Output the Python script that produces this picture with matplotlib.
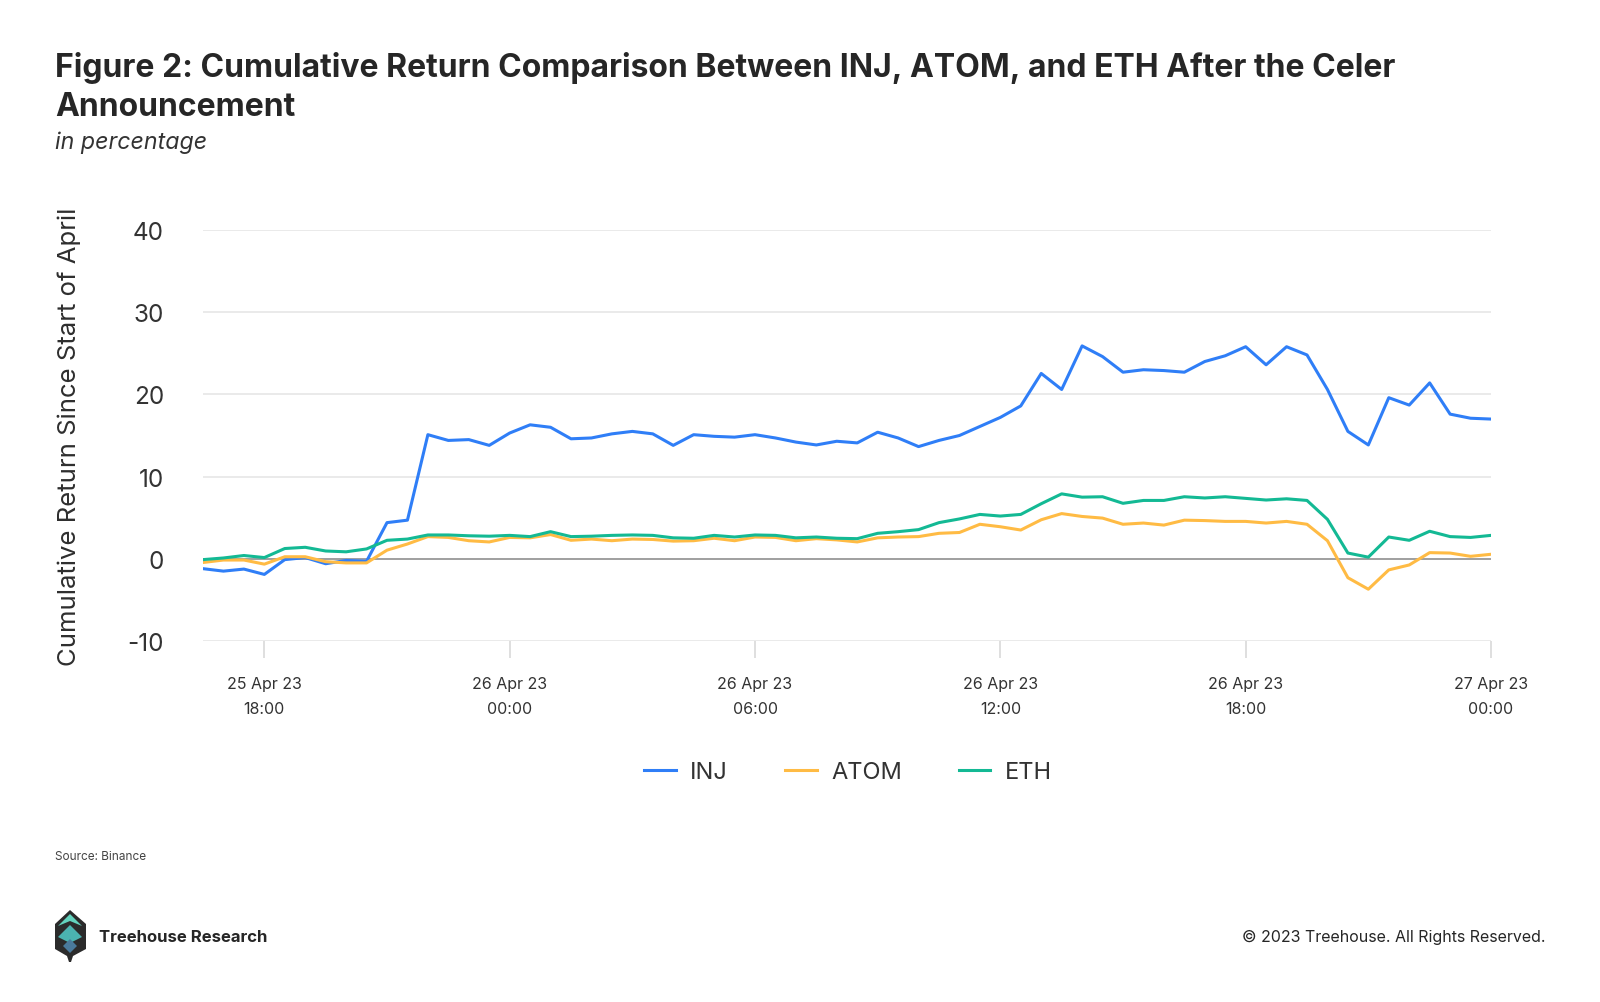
import numpy as np
import pandas as pd
import matplotlib
matplotlib.use("Agg")
import matplotlib.pyplot as plt
import matplotlib.dates as mdates
from matplotlib.patches import Polygon

plt.rcParams['font.family'] = ['Inter', 'DejaVu Sans']
plt.rcParams['axes.unicode_minus'] = False

# 30-minute samples, 25 Apr 23 16:30 -> 27 Apr 23 00:00
times = pd.date_range('2023-04-25 16:30', periods=64, freq='30min')

inj = [-1.2, -1.5, -1.25, -1.9, -0.1, 0.15, -0.6, -0.2, -0.3, 4.4,
       4.7, 15.1, 14.4, 14.5, 13.8, 15.3, 16.3, 16.0, 14.6, 14.7,
       15.2, 15.5, 15.2, 13.8, 15.1, 14.9, 14.8, 15.1, 14.7, 14.2,
       13.85, 14.3, 14.1, 15.4, 14.7, 13.65, 14.4, 15.0, 16.1, 17.2,
       18.6, 22.55, 20.6, 25.9, 24.6, 22.7, 23.0, 22.9, 22.7, 24.0,
       24.7, 25.8, 23.6, 25.8, 24.8, 20.6, 15.5, 13.85, 19.6, 18.7,
       21.4, 17.6, 17.1, 17.0]
atom = [-0.45, -0.15, -0.15, -0.65, 0.25, 0.25, -0.35, -0.5, -0.5, 1.05,
        1.8, 2.7, 2.6, 2.2, 2.05, 2.6, 2.55, 2.95, 2.25, 2.4,
        2.2, 2.4, 2.35, 2.15, 2.2, 2.5, 2.2, 2.65, 2.6, 2.2,
        2.45, 2.3, 2.05, 2.55, 2.65, 2.7, 3.1, 3.2, 4.2, 3.9,
        3.5, 4.75, 5.5, 5.15, 4.95, 4.2, 4.35, 4.1, 4.7, 4.65,
        4.55, 4.55, 4.35, 4.55, 4.2, 2.2, -2.3, -3.7, -1.35, -0.75,
        0.75, 0.7, 0.3, 0.55]
eth = [-0.1, 0.1, 0.4, 0.15, 1.25, 1.4, 0.95, 0.85, 1.2, 2.25,
       2.4, 2.9, 2.9, 2.8, 2.75, 2.85, 2.7, 3.3, 2.7, 2.75,
       2.85, 2.9, 2.85, 2.55, 2.5, 2.85, 2.65, 2.9, 2.85, 2.55,
       2.65, 2.5, 2.45, 3.1, 3.3, 3.55, 4.4, 4.85, 5.4, 5.2,
       5.4, 6.7, 7.9, 7.5, 7.55, 6.75, 7.1, 7.1, 7.55, 7.4,
       7.55, 7.35, 7.15, 7.3, 7.1, 4.8, 0.7, 0.2, 2.65, 2.25,
       3.35, 2.7, 2.6, 2.85]

names = ['INJ', 'ATOM', 'ETH']
colors = ['#2f7ef7', '#ffbb44', '#13b994']
yticks = [-10, 0, 10, 20, 30, 40]

W, H = 1600, 1003
L, R, T, B = 203, 1491, 231, 642
fig = plt.figure(figsize=(W / 100, H / 100), dpi=100)
ax = fig.add_axes([L / W, 1 - B / H, (R - L) / W, (B - T) / H])

for series, name, c in zip([inj, atom, eth], names, colors):
    ax.plot(times, series, color=c, lw=2.2, label=name, zorder=3)

ax.set_ylim(-10, 40)
ax.set_yticks(yticks)
ax.set_xlim(times[0], times[-1])
ax.grid(axis='y', color='#e6e6e6', lw=1.2)
ax.axhline(0, color='#9a9a9a', lw=1.3, zorder=2)
for s in ax.spines.values():
    s.set_visible(False)

ax.xaxis.set_major_locator(mdates.HourLocator(byhour=[0, 6, 12, 18]))
ax.xaxis.set_major_formatter(mdates.DateFormatter('%d %b %y\n%H:%M'))
ax.tick_params(axis='x', length=12, color='#d9d9d9', width=1.2, pad=13,
               labelsize=11.5, labelcolor='#333333')
ax.tick_params(axis='y', length=0, pad=28, labelsize=17.5, labelcolor='#333333')
for lab in ax.get_yticklabels():
    lab.set_horizontalalignment('right')
for lab in ax.get_xticklabels():
    lab.set_linespacing(1.85)

ax.set_ylabel('Cumulative Return Since Start of April', fontsize=18.5,
              color='#2e2e2e')
ax.yaxis.set_label_coords(-(L - 81) / (R - L), 0.5)

fig.legend(loc='center', bbox_to_anchor=(848 / W, 1 - 773 / H), ncol=3,
           frameon=False, fontsize=17, handlelength=1.35, handletextpad=0.6,
           columnspacing=2.4, labelcolor='#333333')

# titles
fig.text(55 / W, 1 - 77 / H, 'Figure 2: Cumulative Return Comparison Between INJ, ATOM, and ETH After the Celer',
         fontsize=23, fontweight='bold', color='#262626', va='baseline')
fig.text(55 / W, 1 - 116 / H, 'Announcement', fontsize=23, fontweight='bold',
         color='#262626', va='baseline')
fig.text(55 / W, 1 - 149 / H, 'in percentage', fontsize=16.7, style='italic',
         color='#333333', va='baseline')

# footer
fig.text(55 / W, 1 - 857 / H, 'Source: Binance', fontsize=8.5, color='#444444', va='center')
fig.text(99 / W, 1 - 937 / H, 'Treehouse Research', fontsize=12, fontweight='bold',
         color='#262626', va='center')
fig.text(1546 / W, 1 - 937 / H, '\u00a9 2023 Treehouse. All Rights Reserved.', fontsize=11.5,
         color='#262626', va='center', ha='right')


def px(pts):
    return [(x / W, 1 - y / H) for x, y in pts]


# logo: dark shield with teal chevrons
fig.patches.append(Polygon(px([(70, 911), (86, 925), (86, 950), (73, 957), (71, 963),
                               (69, 963), (67, 957), (55, 950), (55, 925)]),
                           closed=True, fc='#2b2b2b', transform=fig.transFigure))
fig.patches.append(Polygon(px([(70, 915), (82, 927), (70, 922), (58, 927)]),
                           closed=True, fc='#63d3be', transform=fig.transFigure))
fig.patches.append(Polygon(px([(70, 926), (82, 938), (70, 944), (58, 938)]),
                           closed=True, fc='#4bb3b0', transform=fig.transFigure))
fig.patches.append(Polygon(px([(70, 940), (77, 947), (70, 954), (63, 947)]),
                           closed=True, fc='#4a7a9c', transform=fig.transFigure))

fig.savefig('out.png', dpi=100, facecolor='white')
